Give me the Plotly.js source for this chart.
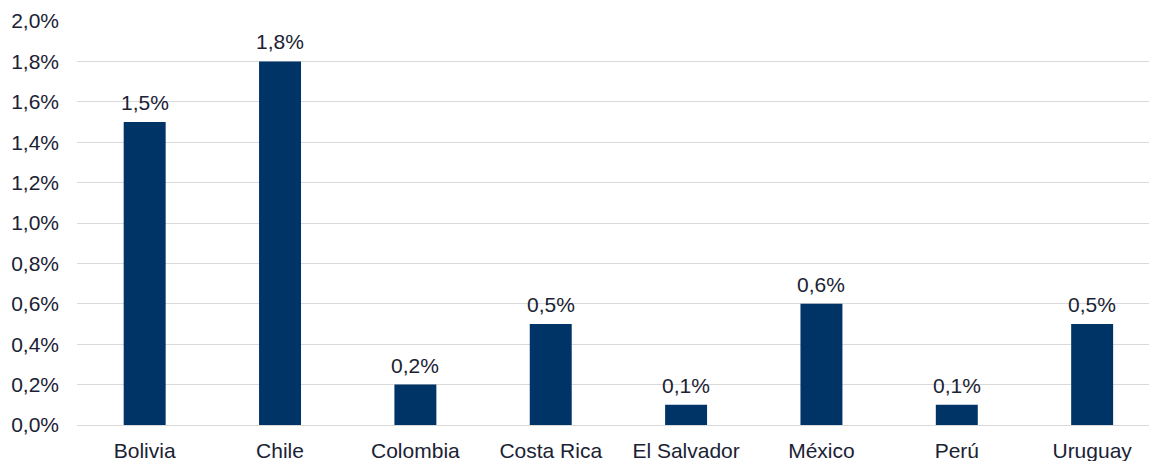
<!DOCTYPE html>
<html>
<head>
<meta charset="utf-8">
<script src="https://cdn.plot.ly/plotly-3.0.1.min.js"></script>
<style>html,body{margin:0;padding:0;overflow:hidden;background:#fff;}</style>
</head>
<body>
<div id="chart" style="width:1149px;height:461px;"></div>
<script>
const countries = ["Bolivia", "Chile", "Colombia", "Costa Rica", "El Salvador", "México", "Perú", "Uruguay"];
const values = [1.5, 1.8, 0.2, 0.5, 0.1, 0.6, 0.1, 0.5];
const yTicks = [0, 0.2, 0.4, 0.6, 0.8, 1.0, 1.2, 1.4, 1.6, 1.8, 2.0];

const textColor = "#1a2233";
const fontFam = "Liberation Sans, Arial, sans-serif";
const fmt = v => v.toFixed(1).replace(".", ",") + "%";

const trace = {
  type: "bar",
  x: countries,
  y: values,
  width: 0.31,
  marker: {color: "#003366"},
  hoverinfo: "skip"
};

const annotations = countries.map((c, i) => ({
  x: c,
  y: values[i],
  xref: "x",
  yref: "y",
  text: fmt(values[i]),
  showarrow: false,
  yanchor: "bottom",
  xanchor: "center",
  yshift: 6,
  font: {family: fontFam, size: 21, color: textColor}
}));

const layout = {
  width: 1149,
  height: 461,
  margin: {l: 77, r: 0, t: 21, b: 36},
  paper_bgcolor: "#fff",
  plot_bgcolor: "#fff",
  showlegend: false,
  font: {family: fontFam, size: 21, color: textColor},
  annotations: annotations,
  xaxis: {
    type: "category",
    range: [-0.5, 7.42],
    showgrid: false,
    showline: false,
    ticks: "",
    tickfont: {size: 21, color: textColor},
    ticklabelstandoff: 11
  },
  yaxis: {
    range: [0, 2.0],
    tickvals: yTicks,
    ticktext: yTicks.map(fmt),
    showgrid: true,
    gridcolor: "#d9d9d9",
    gridwidth: 1,
    zeroline: true,
    zerolinecolor: "#d9d9d9",
    zerolinewidth: 1,
    showline: false,
    ticks: "",
    tickfont: {size: 21, color: textColor},
    ticklabelstandoff: 17
  }
};

Plotly.newPlot("chart", [trace], layout, {displayModeBar: false, staticPlot: true});
</script>
</body>
</html>
